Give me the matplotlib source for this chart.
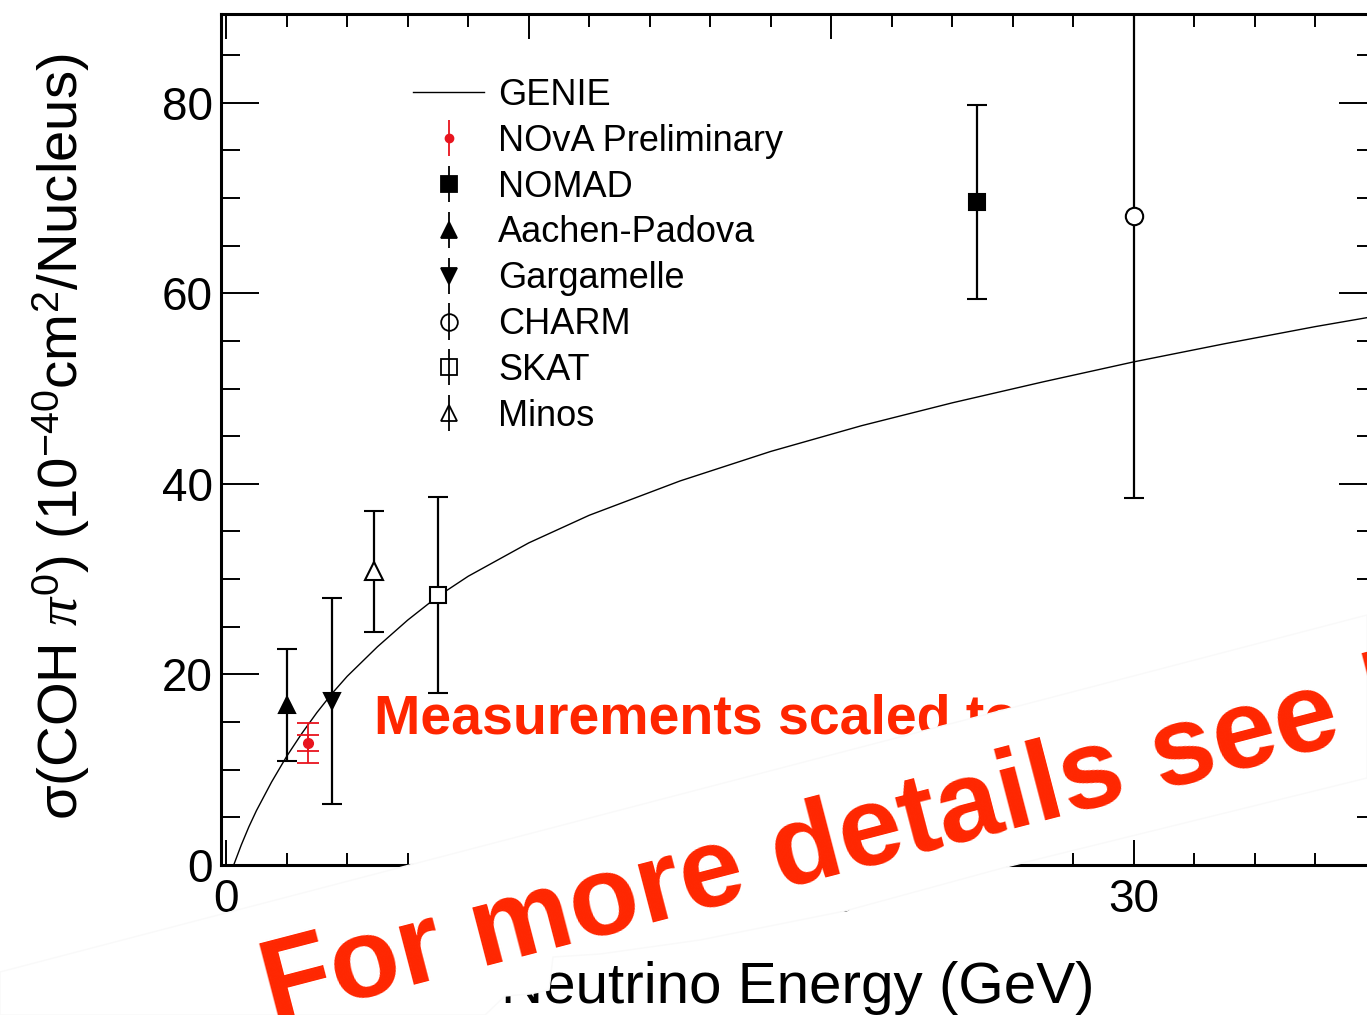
import matplotlib
matplotlib.use('Agg')
import numpy as np
import matplotlib.pyplot as plt
from matplotlib.patches import Polygon
from matplotlib.ticker import MultipleLocator

plt.rcParams['font.family'] = ['Liberation Sans', 'DejaVu Sans']
plt.rcParams['mathtext.fontset'] = 'custom'
plt.rcParams['mathtext.rm'] = 'Liberation Sans'
plt.rcParams['mathtext.it'] = 'Liberation Serif:italic'

W, H = 1367, 1015

# GENIE prediction, sigma(COH pi0) per nucleus vs neutrino energy
genie_e = [0.25, 0.5, 0.75, 1.0, 1.5, 2.0, 2.5, 3.0, 3.5, 4.0, 5.0, 6.0, 7.0, 8.0, 10.0,
           12.0, 15.0, 18.0, 21.0, 24.0, 27.0, 30.0, 33.0, 36.0, 38.0]
genie_xsec = [0.0, 2.1, 4.0, 5.7, 8.7, 11.4, 13.8, 16.0, 18.0, 19.8, 22.9, 25.7, 28.2, 30.3, 33.8,
              36.7, 40.3, 43.4, 46.1, 48.5, 50.7, 52.8, 54.7, 56.5, 57.6]

# NOvA point: stat and total uncertainties
nova_e = [2.7]
nova_xsec = [12.8]
nova_stat = [0.8]
nova_total = [2.1]

# other measurements, scaled to carbon
experiments = ['NOMAD', 'Aachen-Padova', 'Gargamelle', 'CHARM', 'SKAT', 'Minos']
exp_e = [24.8, 2.0, 3.5, 30.0, 7.0, 4.9]
exp_xsec = [69.6, 16.8, 17.2, 68.1, 28.3, 30.8]
exp_err = [10.2, 5.9, 10.8, 29.6, 10.3, 6.3]
exp_marker = ['s', '^', 'v', 'o', 's', '^']
exp_filled = [True, True, True, False, False, False]
exp_size = [11.5, 12, 12, 12.5, 11.5, 12.5]


def px(x, y):
    # pixel position (from top-left) -> figure fraction
    return x / W, 1 - y / H


fig = plt.figure(figsize=(W / 100, H / 100), dpi=100)
ax = fig.add_axes([221 / W, (H - 865) / H, (1376 - 221) / W, (865 - 14) / H])

genie_line, = ax.plot(genie_e, genie_xsec, color='black', lw=1.0, label='GENIE')

ax.errorbar(nova_e, nova_xsec, yerr=nova_total, fmt='none', ecolor='#e8141e',
            elinewidth=1.3, capsize=8, capthick=1.3)
ax.errorbar(nova_e, nova_xsec, yerr=nova_stat, fmt='o', color='#e8141e', ms=7,
            elinewidth=1.3, capsize=8, capthick=1.3)

for e, s, err, m, filled, size in zip(exp_e, exp_xsec, exp_err, exp_marker, exp_filled, exp_size):
    ax.errorbar([e], [s], yerr=[err], fmt=m, color='black', ms=size, mew=1.5,
                mfc='black' if filled else 'white', elinewidth=1.6, capsize=7, capthick=1.6)

# legend proxies (no caps, bar seen through open markers)
handles = [genie_line]
labels = ['GENIE', 'NOvA Preliminary'] + experiments
handles.append(ax.errorbar([], [], yerr=[], fmt='o', color='#e8141e', ms=6, elinewidth=1.3))
for m, filled, size in zip(exp_marker, exp_filled, exp_size):
    handles.append(ax.errorbar([], [], yerr=[], fmt=m, color='black', ms=size - 0.5, mew=1.3,
                               mfc='black' if filled else 'none', elinewidth=1.3))

ax.legend(handles, labels, loc='upper left', bbox_to_anchor=px(413, 78), bbox_transform=fig.transFigure,
          frameon=False, fontsize=26, handlelength=1.97, handletextpad=0.39, labelspacing=0.30,
          borderpad=0, borderaxespad=0)

ax.set_xlim(-0.17, 38.0)
ax.set_ylim(0, 89.3)
ax.xaxis.set_major_locator(MultipleLocator(10))
ax.xaxis.set_minor_locator(MultipleLocator(2))
ax.yaxis.set_major_locator(MultipleLocator(20))
ax.yaxis.set_minor_locator(MultipleLocator(5))
ax.tick_params(which='both', direction='in', top=True, right=True, width=1.4, labelsize=33)
ax.tick_params(axis='x', which='major', length=18, pad=9)
ax.tick_params(axis='x', which='minor', length=9)
ax.tick_params(axis='y', which='major', length=27, pad=6)
ax.tick_params(axis='y', which='minor', length=14)
for sp in ax.spines.values():
    sp.set_linewidth(2.2)

fig.text(*px(798, 1003), 'Neutrino Energy (GeV)', fontsize=42, ha='center', va='baseline', zorder=2)
fig.text(*px(78, 437), r'σ(COH $\pi^{0}$) (10$^{-40}$cm$^{2}$/Nucleus)', fontsize=40.5,
         rotation=90, rotation_mode='anchor', ha='center', va='baseline')

red = '#ff2600'
fig.text(*px(374, 733), 'Measurements scaled to carbon', fontsize=40, fontweight='bold',
         color=red, ha='left', va='baseline', zorder=4)

# white banner laid across the lower part of the plot
band = [(0, 972), (1367, 615), (1367, 778), (1010, 866), (845, 911), (700, 940), (600, 954),
        (553, 957), (549, 990), (530, 994), (505, 996), (485, 1015), (0, 1015)]
fig.patches.append(Polygon([px(x, y) for x, y in band], closed=True, transform=fig.transFigure,
                           facecolor='white', edgecolor='#f9f9f9', lw=1, zorder=5))
fig.text(*px(272, 1022), 'For more details see backup', fontsize=82, fontweight='bold',
         color=red, rotation=14.6, rotation_mode='anchor', ha='left', va='baseline', zorder=6)

fig.savefig('out.png', dpi=100)
